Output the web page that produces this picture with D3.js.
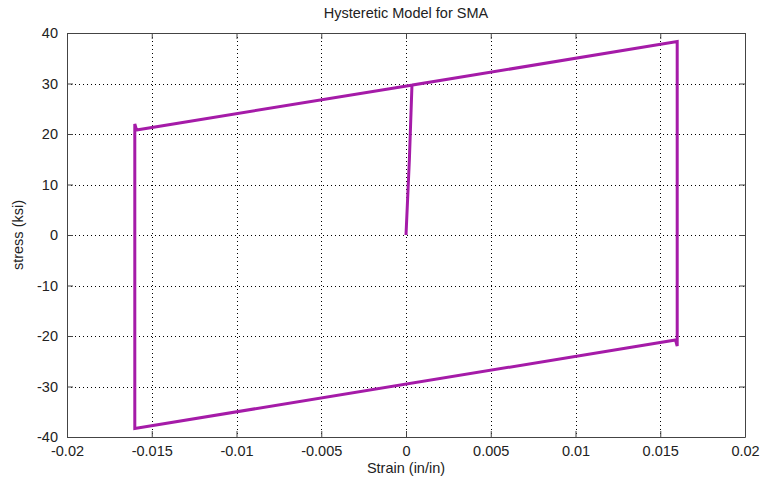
<!DOCTYPE html>
<html>
<head>
<meta charset="utf-8">
<script src="https://cdn.jsdelivr.net/npm/d3@7"></script>
<style>
  body { margin: 0; background: #fff; }
  text { font-family: "Liberation Sans", Arial, sans-serif; fill: #222; }
</style>
</head>
<body>
<div class="canvas"></div>
<script>
// strain / stress path
const strain = [0, 0.0002, 0.00035, 0.0004, 0.016, 0.016, 0.016, 0.0159, -0.016, -0.016, -0.016, -0.0159, 0.0004];
const stress = [0, 15, 29.5, 29.7, 38.3, 38.3, -22, -20.8, -38.3, -38.3, 22, 20.8, 29.7];
const xTicks = [-0.02, -0.015, -0.01, -0.005, 0, 0.005, 0.01, 0.015, 0.02];
const yTicks = [-40, -30, -20, -10, 0, 10, 20, 30, 40];

const dims = { width: 762, height: 480 };
const margin = { left: 67, right: 17, top: 33, bottom: 43 };

const svg = d3
  .select(".canvas")
  .append("svg")
  .attr("width", dims.width)
  .attr("height", dims.height);

const x = d3.scaleLinear().domain([-0.02, 0.02]).range([margin.left, dims.width - margin.right]);
const y = d3.scaleLinear().domain([-40, 40]).range([dims.height - margin.bottom, margin.top]);

// grid
const grid = svg.append("g").attr("stroke", "#000").attr("stroke-dasharray", "1,3").attr("stroke-width", 1);
grid.selectAll(".gx")
  .data(xTicks.slice(1, -1))
  .enter()
  .append("line")
  .attr("x1", (d) => Math.round(x(d)) + 0.5)
  .attr("x2", (d) => Math.round(x(d)) + 0.5)
  .attr("y1", y(40))
  .attr("y2", y(-40));
grid.selectAll(".gy")
  .data(yTicks.slice(1, -1))
  .enter()
  .append("line")
  .attr("y1", (d) => Math.round(y(d)) + 0.5)
  .attr("y2", (d) => Math.round(y(d)) + 0.5)
  .attr("x1", x(-0.02))
  .attr("x2", x(0.02));

// axes (ticks inside, MATLAB style)
const fmt = (d) => (d === 0 ? "0" : String(+d.toFixed(3)));
const xAxis = svg.append("g")
  .attr("transform", `translate(0, ${y(-40)})`)
  .call(d3.axisBottom(x).tickValues(xTicks).tickSizeInner(-6).tickSizeOuter(0).tickPadding(9).tickFormat(fmt));
const xAxisTop = svg.append("g")
  .attr("transform", `translate(0, ${y(40)})`)
  .call(d3.axisTop(x).tickValues(xTicks).tickSizeInner(-6).tickSizeOuter(0).tickFormat(""));
const yAxis = svg.append("g")
  .attr("transform", `translate(${x(-0.02)}, 0)`)
  .call(d3.axisLeft(y).tickValues(yTicks).tickSizeInner(-6).tickSizeOuter(0).tickPadding(9).tickFormat(fmt));
const yAxisRight = svg.append("g")
  .attr("transform", `translate(${x(0.02)}, 0)`)
  .call(d3.axisRight(y).tickValues(yTicks).tickSizeInner(-6).tickSizeOuter(0).tickFormat(""));

[xAxis, xAxisTop, yAxis, yAxisRight].forEach((g) => {
  g.selectAll("path, line").attr("stroke", "#444");
  g.selectAll("text").attr("font-size", 14.5).attr("fill", "#222")
    .attr("font-family", "Liberation Sans, Arial, sans-serif");
});

// the hysteresis curve
const line = d3.line().x((d) => x(d[0])).y((d) => y(d[1]));
svg.append("path")
  .datum(strain.map((s, i) => [s, stress[i]]))
  .attr("d", line)
  .attr("fill", "none")
  .attr("stroke", "#a51ba8")
  .attr("stroke-width", 3)
  .attr("stroke-linejoin", "miter");

// labels
svg.append("text")
  .attr("x", (x(-0.02) + x(0.02)) / 2)
  .attr("y", 18)
  .attr("text-anchor", "middle")
  .attr("font-size", 14.5)
  .text("Hysteretic Model for SMA");

svg.append("text")
  .attr("x", (x(-0.02) + x(0.02)) / 2)
  .attr("y", 473)
  .attr("text-anchor", "middle")
  .attr("font-size", 14.5)
  .text("Strain (in/in)");

svg.append("text")
  .attr("transform", `translate(23, ${(y(-40) + y(40)) / 2}) rotate(-90)`)
  .attr("text-anchor", "middle")
  .attr("font-size", 14.5)
  .text("stress (ksi)");
</script>
</body>
</html>
